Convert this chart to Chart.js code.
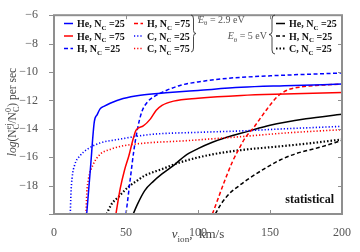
<!DOCTYPE html>
<html>
<head>
<meta charset="utf-8">
<script src="https://cdn.jsdelivr.net/npm/chart.js@4/dist/chart.umd.min.js"></script>
<style>
  html, body { margin: 0; padding: 0; background: #fff; }
  canvas { display: block; }
</style>
</head>
<body>
<canvas id="chart" width="360" height="252"></canvas>
<script>
// axis ticks
const xTicks = [0, 50, 100, 150, 200];
const yTicks = [-20, -18, -16, -14, -12, -10, -8, -6];

// E = 2.9 eV, v_ion (km/s) and log rate
const heN25V = [22.7, 25.3, 28, 30, 32, 35, 39, 48, 60, 80, 100, 130, 160, 200];
const heN25Y = [-20, -16.8, -13.5, -13.0, -12.6, -12.4, -12.2, -11.87, -11.63, -11.45, -11.3, -11.08, -10.97, -10.85];
const heN75V = [43, 46, 49, 52, 55, 57, 62, 67, 71, 75, 83, 100, 130, 160, 200];
const heN75Y = [-20, -18.2, -16.9, -15.9, -14.7, -14.1, -13.8, -13.3, -12.7, -12.35, -12.05, -11.85, -11.65, -11.55, -11.45];
const hN25V = [50, 53, 55.5, 58, 61, 65, 70, 78, 88, 100, 120, 150, 200];
const hN25Y = [-20, -17.5, -15.5, -14, -12.8, -12.1, -11.7, -11.3, -10.93, -10.7, -10.45, -10.27, -10.07];
const hN75V = [110, 114, 118, 124, 128, 133, 138.4, 143, 148, 154, 158, 164, 172, 182, 200];
const hN75Y = [-20, -18.9, -17.8, -16.3, -15.5, -14.6, -13.95, -13.3, -12.6, -11.85, -11.5, -11.2, -11.05, -10.95, -10.85];
const cN25V = [11.3, 11.8, 12.5, 14.5, 18, 23, 32, 44, 67, 100, 130, 160, 200];
const cN25Y = [-20, -18.5, -17.5, -16.5, -15.9, -15.45, -15, -14.76, -14.4, -14.25, -14.15, -14.0, -13.83];
const cN75V = [22.2, 22.8, 23.8, 27.3, 32, 39, 48, 64, 90, 130, 160, 200];
const cN75Y = [-20, -18.5, -17.6, -16.5, -15.8, -15.45, -15.2, -15.0, -14.85, -14.55, -14.3, -14.06];

// E = 5 eV
const he5V = [55, 58, 63, 69, 75, 84, 91, 100, 110, 120, 134, 150, 175, 200];
const he5Y = [-20, -19.3, -18.35, -17.7, -17.18, -16.5, -15.9, -15.4, -14.95, -14.6, -14.2, -13.75, -13.3, -12.98];
const h5V = [112, 116, 122, 128, 134, 146, 157, 168, 185, 200];
const h5Y = [-20, -19.3, -18.55, -18.05, -17.6, -16.82, -16.2, -15.75, -15.29, -14.82];
const c5V = [36.5, 40, 44.7, 51.6, 57, 63, 75, 88, 110, 134, 150, 175, 200];
const c5Y = [-20, -19.3, -18.8, -18.1, -17.7, -17.3, -16.84, -16.35, -15.8, -15.45, -15.3, -15.05, -14.75];

const FONT = '"Liberation Serif", "DejaVu Serif", serif';
const AXIS = '#8f8f8f';

function pts(v, y) {
  return v.map((x, i) => ({ x: x, y: y[i] }));
}

function series(label, v, y, color, dash, width) {
  return {
    label: label,
    data: pts(v, y),
    borderColor: color,
    borderDash: dash,
    borderWidth: width || 1.5,
    pointRadius: 0,
    fill: false,
    cubicInterpolationMode: 'monotone'
  };
}

const DASH = [4, 2.5];
const DOT = [1.2, 2];

const datasets = [
  series('He25', heN25V, heN25Y, '#0000ff', []),
  series('He75', heN75V, heN75Y, '#ff0000', []),
  series('H25', hN25V, hN25Y, '#0000ff', DASH),
  series('H75', hN75V, hN75Y, '#ff0000', DASH),
  series('C25', cN25V, cN25Y, '#0000ff', DOT, 1.6),
  series('C75', cN75V, cN75Y, '#ff0000', DOT, 1.6),
  series('He25_5', he5V, he5Y, '#000000', []),
  series('H25_5', h5V, h5Y, '#000000', DASH),
  series('C25_5', c5V, c5Y, '#000000', [1.5, 2], 2.2)
];

// text with sub / superscripts
function fontStr(px, weight, italic) {
  return (italic ? 'italic ' : '') + (weight || 'normal') + ' ' + px + 'px ' + FONT;
}

function richWidth(ctx, parts, size, weight) {
  let w = 0;
  parts.forEach(p => {
    if (p.k === 'ss') {
      ctx.font = fontStr(size * 0.7, weight);
      w += Math.max(ctx.measureText(p.t[0]).width, ctx.measureText(p.t[1]).width);
    } else {
      const small = p.k === 'sub' || p.k === 'sup';
      ctx.font = fontStr(small ? size * 0.7 : size, weight, p.k === 'it');
      w += ctx.measureText(p.t).width;
    }
  });
  return w;
}

function drawRich(ctx, x, y, parts, size, weight, align) {
  ctx.textBaseline = 'alphabetic';
  ctx.textAlign = 'left';
  if (align === 'center') x -= richWidth(ctx, parts, size, weight) / 2;
  if (align === 'right') x -= richWidth(ctx, parts, size, weight);
  parts.forEach(p => {
    if (p.k === 'ss') {
      ctx.font = fontStr(size * 0.7, weight);
      ctx.fillText(p.t[0], x, y + size * 0.28);
      ctx.fillText(p.t[1], x, y - size * 0.42);
      x += Math.max(ctx.measureText(p.t[0]).width, ctx.measureText(p.t[1]).width);
    } else if (p.k === 'sub' || p.k === 'sup') {
      ctx.font = fontStr(size * 0.7, weight);
      ctx.fillText(p.t, x, p.k === 'sub' ? y + size * 0.28 : y - size * 0.42);
      x += ctx.measureText(p.t).width;
    } else {
      ctx.font = fontStr(size, weight, p.k === 'it');
      ctx.fillText(p.t, x, y);
      x += ctx.measureText(p.t).width;
    }
  });
}

function brace(ctx, x, y0, y1, w) {
  const ym = (y0 + y1) / 2;
  ctx.beginPath();
  ctx.moveTo(x, y0);
  ctx.quadraticCurveTo(x + w, y0, x + w, y0 + 4);
  ctx.lineTo(x + w, ym - 3);
  ctx.quadraticCurveTo(x + w, ym, x + 2 * w, ym);
  ctx.quadraticCurveTo(x + w, ym, x + w, ym + 3);
  ctx.lineTo(x + w, y1 - 4);
  ctx.quadraticCurveTo(x + w, y1, x, y1);
  ctx.stroke();
}

function nc(name, n) {
  return [{ t: name + ', N', k: 'n' }, { t: 'C', k: 'sub' }, { t: ' =' + n, k: 'n' }];
}

// legend entries: dataset index, x of sample, row y
const legendItems = [
  { ds: 0, x: 64, y: 23.5, text: nc('He', 25) },
  { ds: 1, x: 64, y: 36, text: nc('He', 75) },
  { ds: 2, x: 64, y: 48.5, text: nc('H', 25) },
  { ds: 3, x: 134, y: 23.5, text: nc('H', 75) },
  { ds: 4, x: 134, y: 36, text: nc('C', 25) },
  { ds: 5, x: 134, y: 48.5, text: nc('C', 75) },
  { ds: 6, x: 276, y: 23.5, text: nc('He', 25) },
  { ds: 7, x: 276, y: 36, text: nc('H', 25) },
  { ds: 8, x: 276, y: 48.5, text: nc('C', 25) }
];

const decor = {
  id: 'decor',
  afterDraw(chart) {
    const ctx = chart.ctx;
    const a = chart.chartArea;
    const xs = chart.scales.x, ys = chart.scales.y;
    ctx.save();

    // frame and ticks
    ctx.strokeStyle = AXIS;
    ctx.lineWidth = 2;
    ctx.strokeRect(a.left, a.top, a.right - a.left, a.bottom - a.top);
    ctx.lineWidth = 1;
    ctx.beginPath();
    xTicks.forEach(v => {
      const px = Math.round(xs.getPixelForValue(v)) + 0.5;
      ctx.moveTo(px, a.bottom); ctx.lineTo(px, a.bottom - 4);
      ctx.moveTo(px, a.top); ctx.lineTo(px, a.top + 4);
    });
    yTicks.forEach(v => {
      const py = Math.round(ys.getPixelForValue(v)) + 0.5;
      ctx.moveTo(a.left - 5, py); ctx.lineTo(a.left, py);
      ctx.moveTo(a.right, py); ctx.lineTo(a.right - 4, py);
    });
    ctx.stroke();

    // legend samples and labels
    legendItems.forEach(it => {
      const ds = chart.data.datasets[it.ds];
      ctx.strokeStyle = ds.borderColor;
      ctx.lineWidth = ds.borderWidth;
      ctx.setLineDash(ds.borderDash);
      ctx.beginPath();
      ctx.moveTo(it.x, it.y);
      ctx.lineTo(it.x + 9, it.y);
      ctx.stroke();
      ctx.setLineDash([]);
      ctx.fillStyle = '#111';
      drawRich(ctx, it.x + 13, it.y + 3.5, it.text, 10, 'bold', 'left');
    });

    ctx.strokeStyle = '#333';
    ctx.lineWidth = 0.9;
    brace(ctx, 191, 15, 52, 2.5);
    brace(ctx, 275, 15, 54, -3);

    ctx.fillStyle = '#555';
    drawRich(ctx, 198, 22.5, [{ t: 'E', k: 'it' }, { t: '\u03b8', k: 'sub' }, { t: ' = 2.9 eV', k: 'n' }], 10, 'normal', 'left');
    drawRich(ctx, 267, 39, [{ t: 'E', k: 'it' }, { t: '\u03b8', k: 'sub' }, { t: ' = 5 eV', k: 'n' }], 10, 'normal', 'right');

    ctx.fillStyle = '#111';
    drawRich(ctx, 334, 203, [{ t: 'statistical', k: 'n' }], 12, 'bold', 'right');

    // axis titles
    ctx.fillStyle = '#444';
    drawRich(ctx, (a.left + a.right) / 2, 238, [
      { t: 'v', k: 'it' }, { t: 'ion', k: 'sub' }, { t: ',  km/s', k: 'n' }
    ], 13, 'normal', 'center');

    ctx.translate(16, 112);
    ctx.rotate(-Math.PI / 2);
    drawRich(ctx, 0, 0, [
      { t: 'log', k: 'it' }, { t: '(N', k: 'n' }, { t: ['C', 'ej'], k: 'ss' },
      { t: '/N', k: 'n' }, { t: ['C', '0'], k: 'ss' }, { t: ') per sec', k: 'n' }
    ], 11.5, 'normal', 'center');
    ctx.restore();
  }
};

new Chart(document.getElementById('chart'), {
  type: 'line',
  data: { datasets: datasets },
  plugins: [decor],
  options: {
    responsive: false,
    animation: false,
    layout: { padding: { top: 12, right: 18, left: 0, bottom: 0 } },
    plugins: { legend: { display: false }, tooltip: { enabled: false } },
    scales: {
      x: {
        type: 'linear',
        min: 0,
        max: 200,
        afterBuildTicks: s => { s.ticks = xTicks.map(v => ({ value: v })); },
        afterFit: s => { s.height = 38; },
        grid: { display: false },
        border: { display: false },
        ticks: { padding: 4, color: '#555', font: { family: FONT, size: 12 } }
      },
      y: {
        type: 'linear',
        min: -20,
        max: -6,
        afterBuildTicks: s => { s.ticks = yTicks.map(v => ({ value: v })); },
        afterFit: s => { s.width = 54; },
        grid: { display: false },
        border: { display: false },
        ticks: {
          padding: 8,
          color: '#555',
          font: { family: FONT, size: 12 },
          callback: v => (v === -20 ? '' : '\u2212' + Math.abs(v))
        }
      }
    }
  }
});
</script>
</body>
</html>
